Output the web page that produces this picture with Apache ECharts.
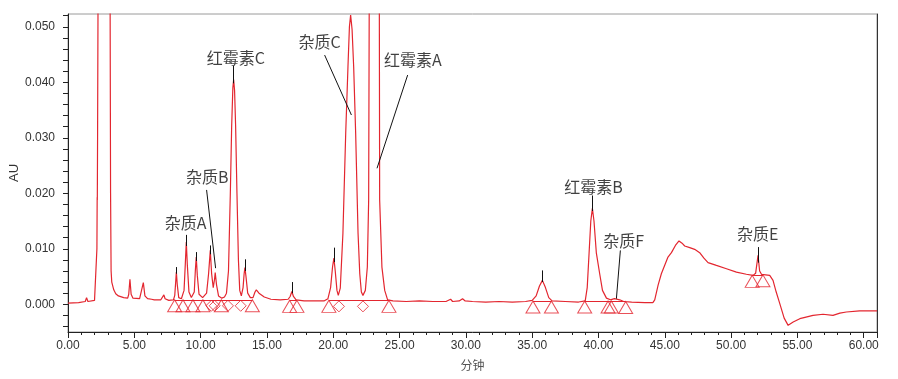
<!DOCTYPE html>
<html>
<head>
<meta charset="utf-8">
<script src="https://cdn.jsdelivr.net/npm/echarts@6/dist/echarts.min.js"></script>
<style>html,body{margin:0;padding:0;background:#fff;}#c{width:898px;height:379px;}</style>
</head>
<body>
<div id="c"></div>
<script>
// ---- data (minutes, AU) ----
const times = [0.00,0.80,1.30,1.40,1.50,2.00,2.12,2.18,2.20,2.21,2.23,2.30,2.60,2.90,3.15,3.21,3.25,3.30,3.45,3.60,3.80,4.20,4.50,4.58,4.67,4.76,4.90,5.40,5.55,5.68,5.80,6.00,6.30,6.40,6.50,7.00,7.15,7.23,7.32,7.60,7.95,
8.05,8.12,8.17,8.24,8.35,8.55,8.75,8.85,8.92,9.00,9.12,9.30,9.52,9.60,9.67,9.75,9.88,10.15,10.45,10.60,10.73,10.83,10.95,11.05,11.10,11.20,11.35,11.60,
11.80,11.95,12.10,12.24,12.34,12.43,12.49,12.56,12.64,12.74,12.85,12.95,13.07,13.20,13.28,13.34,13.42,13.55,13.75,13.95,14.10,14.20,14.40,14.80,15.30,16.00,16.60,
16.75,16.88,17.00,17.20,17.80,18.50,19.30,19.60,19.80,19.95,20.05,20.15,20.28,20.38,20.53,20.73,20.94,21.11,21.22,21.31,21.42,21.54,21.69,21.87,22.00,22.12,22.24,
22.42,22.57,22.67,22.72,22.90,23.10,23.30,23.47,23.50,23.67,23.88,24.10,24.50,25.50,26.50,27.50,28.50,28.85,29.00,29.50,29.75,29.95,30.50,31.50,32.50,33.50,34.50,
35.00,35.30,35.55,35.77,36.00,36.25,36.50,37.50,38.50,39.00,39.15,39.29,39.42,39.54,39.66,39.84,40.09,40.30,40.60,40.90,41.20,41.35,41.60,41.90,42.50,43.50,44.10,
44.24,44.50,44.74,45.24,45.50,45.80,46.07,46.30,46.50,46.88,47.25,47.63,47.95,48.26,48.89,49.65,50.40,51.15,51.65,51.85,52.03,52.15,52.29,52.91,53.16,53.40,53.67,
54.00,54.30,54.68,55.18,56.18,56.93,57.68,58.20,58.69,59.69,61.00];
const absorbance = [0.0002,0.0003,0.0005,0.0012,0.0005,0.0007,0.0010,0.0100,0.0193,0.0188,0.0300,0.0800,0.3000,0.2000,0.0800,0.0200,0.0060,0.0040,0.0026,0.0019,0.0015,0.0012,0.0011,0.0018,0.0045,0.0018,0.0011,0.0010,0.0013,0.0039,0.0015,0.0010,0.0009,0.0011,0.0008,0.0008,0.0010,0.0017,0.0010,0.0007,0.0008,
0.0016,0.0040,0.0058,0.0035,0.0012,0.0010,0.0025,0.0075,0.0112,0.0070,0.0022,0.0012,0.0022,0.0060,0.0085,0.0052,0.0018,0.0012,0.0020,0.0055,0.0097,0.0055,0.0030,0.0045,0.0057,0.0035,0.0015,0.0011,
0.0013,0.0020,0.0060,0.0200,0.0320,0.0390,0.0405,0.0385,0.0320,0.0200,0.0080,0.0025,0.0015,0.0030,0.0055,0.0066,0.0050,0.0020,0.0012,0.0012,0.0022,0.0026,0.0020,0.0013,0.0009,0.0008,0.0009,
0.0014,0.0023,0.0014,0.0008,0.0006,0.0006,0.0006,0.0010,0.0030,0.0068,0.0083,0.0060,0.0025,0.0016,0.0029,0.0128,0.0308,0.0428,0.0500,0.0521,0.0495,0.0428,0.0308,0.0128,0.0055,0.0022,0.0016,
0.0025,0.0067,0.0188,0.0600,0.2500,0.4000,0.2500,0.0600,0.0188,0.0067,0.0025,0.0008,0.0006,0.0005,0.0006,0.0005,0.0005,0.0009,0.0005,0.0006,0.0010,0.0006,0.0005,0.0004,0.0005,0.0004,0.0005,
0.0007,0.0015,0.0033,0.0043,0.0030,0.0012,0.0006,0.0005,0.0004,0.0006,0.0030,0.0092,0.0150,0.0173,0.0150,0.0092,0.0055,0.0025,0.0011,0.0008,0.0010,0.0013,0.0008,0.0005,0.0004,0.0003,0.0003,
0.0008,0.0035,0.0055,0.0085,0.0093,0.0106,0.0114,0.0110,0.0105,0.0102,0.0099,0.0093,0.0083,0.0075,0.0070,0.0064,0.0058,0.0054,0.0052,0.0056,0.0088,0.0060,0.0054,0.0052,0.0043,0.0022,0.0001,
-0.0025,-0.0038,-0.0032,-0.0026,-0.0020,-0.0018,-0.0020,-0.0016,-0.0014,-0.0012,-0.0012];

// integration markers (peak start / end)
const triangleTimes  = [8.04,8.67,9.42,10.17,11.56,13.90,16.71,17.26,19.67,24.20,35.06,36.45,38.96,40.72,40.97,42.05,51.59,52.40];
const triangleLevels = [0.0008,0.0008,0.0008,0.0008,0.0008,0.0008,0.0007,0.0007,0.0007,0.0007,0.0006,0.0006,0.0006,0.0006,0.0006,0.0005,0.0052,0.0053];
const diamondTimes   = [10.81,11.06,12.06,13.02,20.43,22.24];
const diamondLevels  = [0.0008,0.0008,0.0008,0.0008,0.0007,0.0007];

// integration baselines [start, end, level]
const baselineStart = [8.04,16.71,19.67,35.06,38.96,51.59];
const baselineEnd   = [13.90,17.26,24.20,36.45,42.05,52.40];
const baselineLevel = [0.0008,0.0007,0.0007,0.0006,0.0006,0.0052];

// apex ticks of peaks [time, from, to]
const tickTimes = [8.17,8.92,9.67,10.73,12.49,13.34,16.88,20.05,35.77,39.54,52.03];
const tickFrom  = [0.0055,0.0105,0.0078,0.0090,0.0398,0.0060,0.0020,0.0076,0.0040,0.0168,0.0075];
const tickTo    = [0.0067,0.0125,0.0094,0.0106,0.0430,0.0081,0.0040,0.0102,0.0061,0.0196,0.0103];

// peak names and label anchors
const peakNames  = ['杂质A','杂质B','红霉素C','杂质C','红霉素A','红霉素B','杂质F','杂质E'];
const labelTimes = [8.87,10.50,12.65,18.97,26.00,39.62,41.90,52.00];
const labelLevels= [0.0146,0.0229,0.0444,0.0472,0.0441,0.0212,0.0114,0.0127];
// leader lines [x1,y1,x2,y2]
const leaderFromT = [10.45,19.35,25.61,41.65];
const leaderFromY = [0.0206,0.0449,0.0413,0.0097];
const leaderToT   = [11.13,21.37,23.30,41.35];
const leaderToY   = [0.0065,0.0341,0.0245,0.0010];

const yLabels = [0,0.01,0.02,0.03,0.04,0.05];
const yMinorTicks = [-0.004,-0.002,0,0.002,0.004,0.006,0.008,0.010,0.012,0.014,0.016,0.018,0.020,0.022,0.024,0.026,0.028,0.030,0.032,0.034,0.036,0.038,0.040,0.042,0.044,0.046,0.048,0.050,0.052];

// ---- chart ----
const RED = '#e3262f';
const chart = echarts.init(document.getElementById('c'));
const curve = times.map((t,i)=>[t,absorbance[i]]);
const tri = triangleTimes.map((t,i)=>[t,triangleLevels[i]]);
const dia = diamondTimes.map((t,i)=>[t,diamondLevels[i]]);
const baseLines = baselineStart.map((s,i)=>({coords:[[s,baselineLevel[i]],[baselineEnd[i],baselineLevel[i]]]}));
const ticks = tickTimes.map((t,i)=>({coords:[[t,tickFrom[i]],[t,tickTo[i]]]}));
const leaders = leaderFromT.map((t,i)=>({coords:[[t,leaderFromY[i]],[leaderToT[i],leaderToY[i]]]}));
const labels = peakNames.map((n,i)=>({name:n,value:[labelTimes[i],labelLevels[i]]}));

const YMIN=-0.005, YMAX=0.0523;
chart.setOption({
  animation:false,
  grid:{left:68,right:21,top:14,bottom:47,show:true,borderColor:'#9a9a9a',borderWidth:1,outerBoundsMode:'none',containLabel:false},
  xAxis:{type:'value',min:0,max:61,interval:5,
    name:'分钟',nameLocation:'middle',nameGap:27,nameMoveOverlap:false,nameTextStyle:{fontSize:12,color:'#555',fontFamily:'Noto Sans CJK SC'},
    axisLine:{onZero:false,lineStyle:{color:'#222',width:1}},
    axisTick:{length:6,lineStyle:{color:'#222'}},
    minorTick:{show:true,splitNumber:5,length:3,lineStyle:{color:'#222'}},
    axisLabel:{formatter:v=>v.toFixed(2),fontSize:12,color:'#333',margin:8,fontFamily:'Liberation Sans'},
    splitLine:{show:false}},
  yAxis:[{type:'value',min:YMIN,max:YMAX,
    name:'AU',nameLocation:'middle',nameGap:47,nameMoveOverlap:false,nameTextStyle:{fontSize:13,color:'#333',fontFamily:'Liberation Sans'},
    axisLine:{show:true,lineStyle:{color:'#222'}},
    axisTick:{show:true,length:5,customValues:yMinorTicks,lineStyle:{color:'#222'}},
    axisLabel:{customValues:yLabels,formatter:v=>v.toFixed(3),fontSize:12,color:'#333',margin:13,fontFamily:'"Liberation Sans Narrow", "Liberation Sans", Arial'},
    splitLine:{show:false}},
   {type:'value',min:YMIN,max:YMAX,position:'right',axisLine:{show:true,lineStyle:{color:'#333'}},axisTick:{show:false},axisLabel:{show:false},splitLine:{show:false}}],
  series:[
    {type:'lines',coordinateSystem:'cartesian2d',data:baseLines,lineStyle:{color:RED,width:1,opacity:1},z:2,silent:true},
    {type:'line',data:curve,showSymbol:false,clip:true,sampling:'none',lineStyle:{color:RED,width:1.2},z:3,silent:true},
    {type:'scatter',data:tri,symbol:'triangle',symbolSize:[14,12],symbolOffset:[0,6],itemStyle:{color:'rgba(0,0,0,0)',borderColor:RED,borderWidth:1},z:4,silent:true},
    {type:'scatter',data:dia,symbol:'diamond',symbolSize:[11,11],symbolOffset:[0,6],itemStyle:{color:'rgba(0,0,0,0)',borderColor:RED,borderWidth:1},z:4,silent:true},
    {type:'lines',coordinateSystem:'cartesian2d',data:ticks,lineStyle:{color:'#111',width:1,opacity:1},z:5,silent:true},
    {type:'lines',coordinateSystem:'cartesian2d',data:leaders,lineStyle:{color:'#111',width:1,opacity:1},z:5,silent:true},
    {type:'scatter',data:labels,symbolSize:1,itemStyle:{color:'rgba(0,0,0,0)'},z:6,silent:true,
      label:{show:true,position:'inside',formatter:p=>p.name,fontSize:16,color:'#111',fontFamily:'Noto Sans CJK SC'}}
  ]
});
</script>
</body>
</html>
